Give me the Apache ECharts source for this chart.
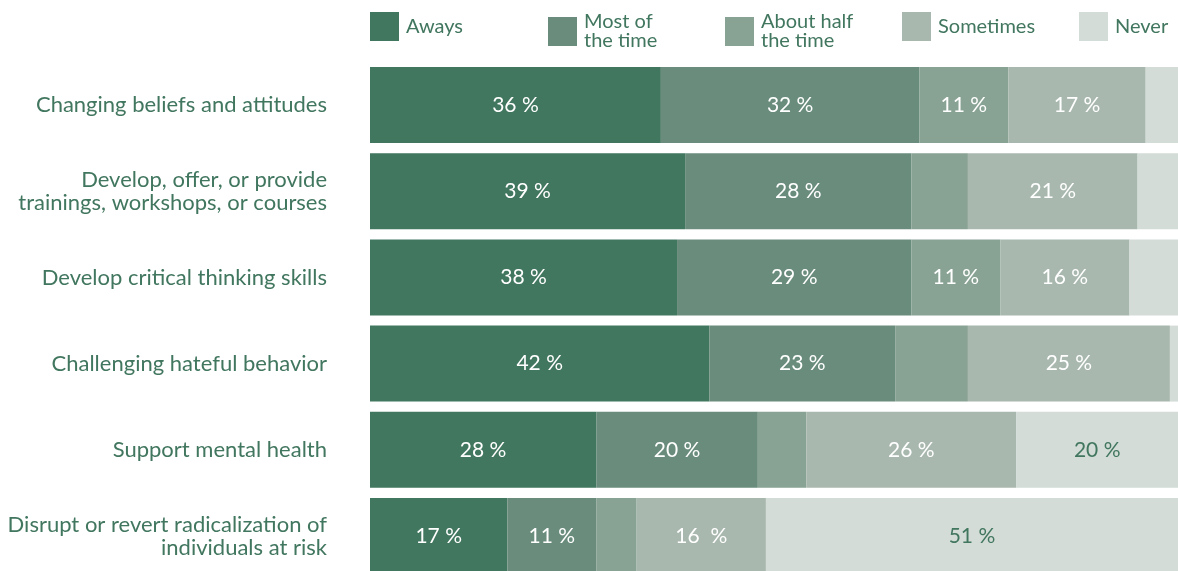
<!DOCTYPE html>
<html>
<head>
<meta charset="utf-8">
<style>
  html, body { margin: 0; padding: 0; background: #ffffff; overflow: hidden; }
  #chart { width: 1178px; height: 600px; }
</style>
<script src="https://cdn.jsdelivr.net/npm/echarts@6/dist/echarts.min.js"></script>
</head>
<body>
<div id="chart"></div>
<script>
// Survey activities (top to bottom)
const categories = [
  'Changing beliefs and attitudes',
  'Develop, offer, or provide\ntrainings, workshops, or courses',
  'Develop critical thinking skills',
  'Challenging hateful behavior',
  'Support mental health',
  'Disrupt or revert radicalization of\nindividuals at risk'
];

// Share of respondents (%) per answer, one value per activity
const always    = [36, 39, 38, 42, 28, 17];
const mostOf    = [32, 28, 29, 23, 20, 11];
const aboutHalf = [11,  7, 11,  9,  6,  5];
const sometimes = [17, 21, 16, 25, 26, 16];
const never     = [ 4,  5,  6,  1, 20, 51];

// Which segments carry a printed value
const showAboutHalf = [true, false, true, false, false, false];
const showNever     = [false, false, false, false, true, true];

const seriesNames = ['Aways', 'Most of\nthe time', 'About half\nthe time', 'Sometimes', 'Never'];
const colors = ['#41765f', '#698c7c', '#88a293', '#a8b8ae', '#d3dcd7'];

const FONT = 'Lato, "Noto Sans", sans-serif';
const GREEN_TEXT = '#41765f';

function makeSeries(name, values, color, labelColor, shown) {
  return {
    name: name,
    type: 'bar',
    stack: 'total',
    barCategoryGap: '11.8%',
    itemStyle: { color: color },
    emphasis: { disabled: true },
    label: {
      show: true,
      position: 'inside',
      color: labelColor,
      fontFamily: FONT,
      fontSize: 21,
      formatter: function (p) {
        if (shown && !shown[p.dataIndex]) return '';
        return p.value + (name === 'Sometimes' && p.dataIndex === 5 ? '  %' : ' %');
      }
    },
    data: values
  };
}

const legendLefts = [370, 548, 725, 902, 1079];
const legends = seriesNames.map(function (n, i) {
  return {
    data: [n],
    left: legendLefts[i],
    top: 12,
    padding: 0,
    itemWidth: 29,
    itemHeight: 29,
    itemGap: 0,
    icon: 'rect',
    selectedMode: false,
    textStyle: {
      color: GREEN_TEXT,
      fontFamily: FONT,
      fontSize: 20,
      lineHeight: 19,
      padding: [0, 0, 0, 2]
    }
  };
});

const chart = echarts.init(document.getElementById('chart'), null, { renderer: 'canvas' });
chart.setOption({
  animation: false,
  color: colors,
  legend: legends,
  grid: { left: 370, right: 0, top: 62, height: 517, containLabel: false },
  xAxis: {
    type: 'value',
    min: 0,
    max: 100,
    show: false
  },
  yAxis: {
    type: 'category',
    inverse: true,
    data: categories,
    axisLine: { show: false },
    axisTick: { show: false },
    axisLabel: {
      color: GREEN_TEXT,
      fontFamily: FONT,
      fontSize: 22,
      lineHeight: 23,
      align: 'right',
      margin: 43
    }
  },
  series: [
    makeSeries(seriesNames[0], always, colors[0], '#ffffff'),
    makeSeries(seriesNames[1], mostOf, colors[1], '#ffffff'),
    makeSeries(seriesNames[2], aboutHalf, colors[2], '#ffffff', showAboutHalf),
    makeSeries(seriesNames[3], sometimes, colors[3], '#ffffff'),
    makeSeries(seriesNames[4], never, colors[4], GREEN_TEXT, showNever)
  ]
});
</script>
</body>
</html>
